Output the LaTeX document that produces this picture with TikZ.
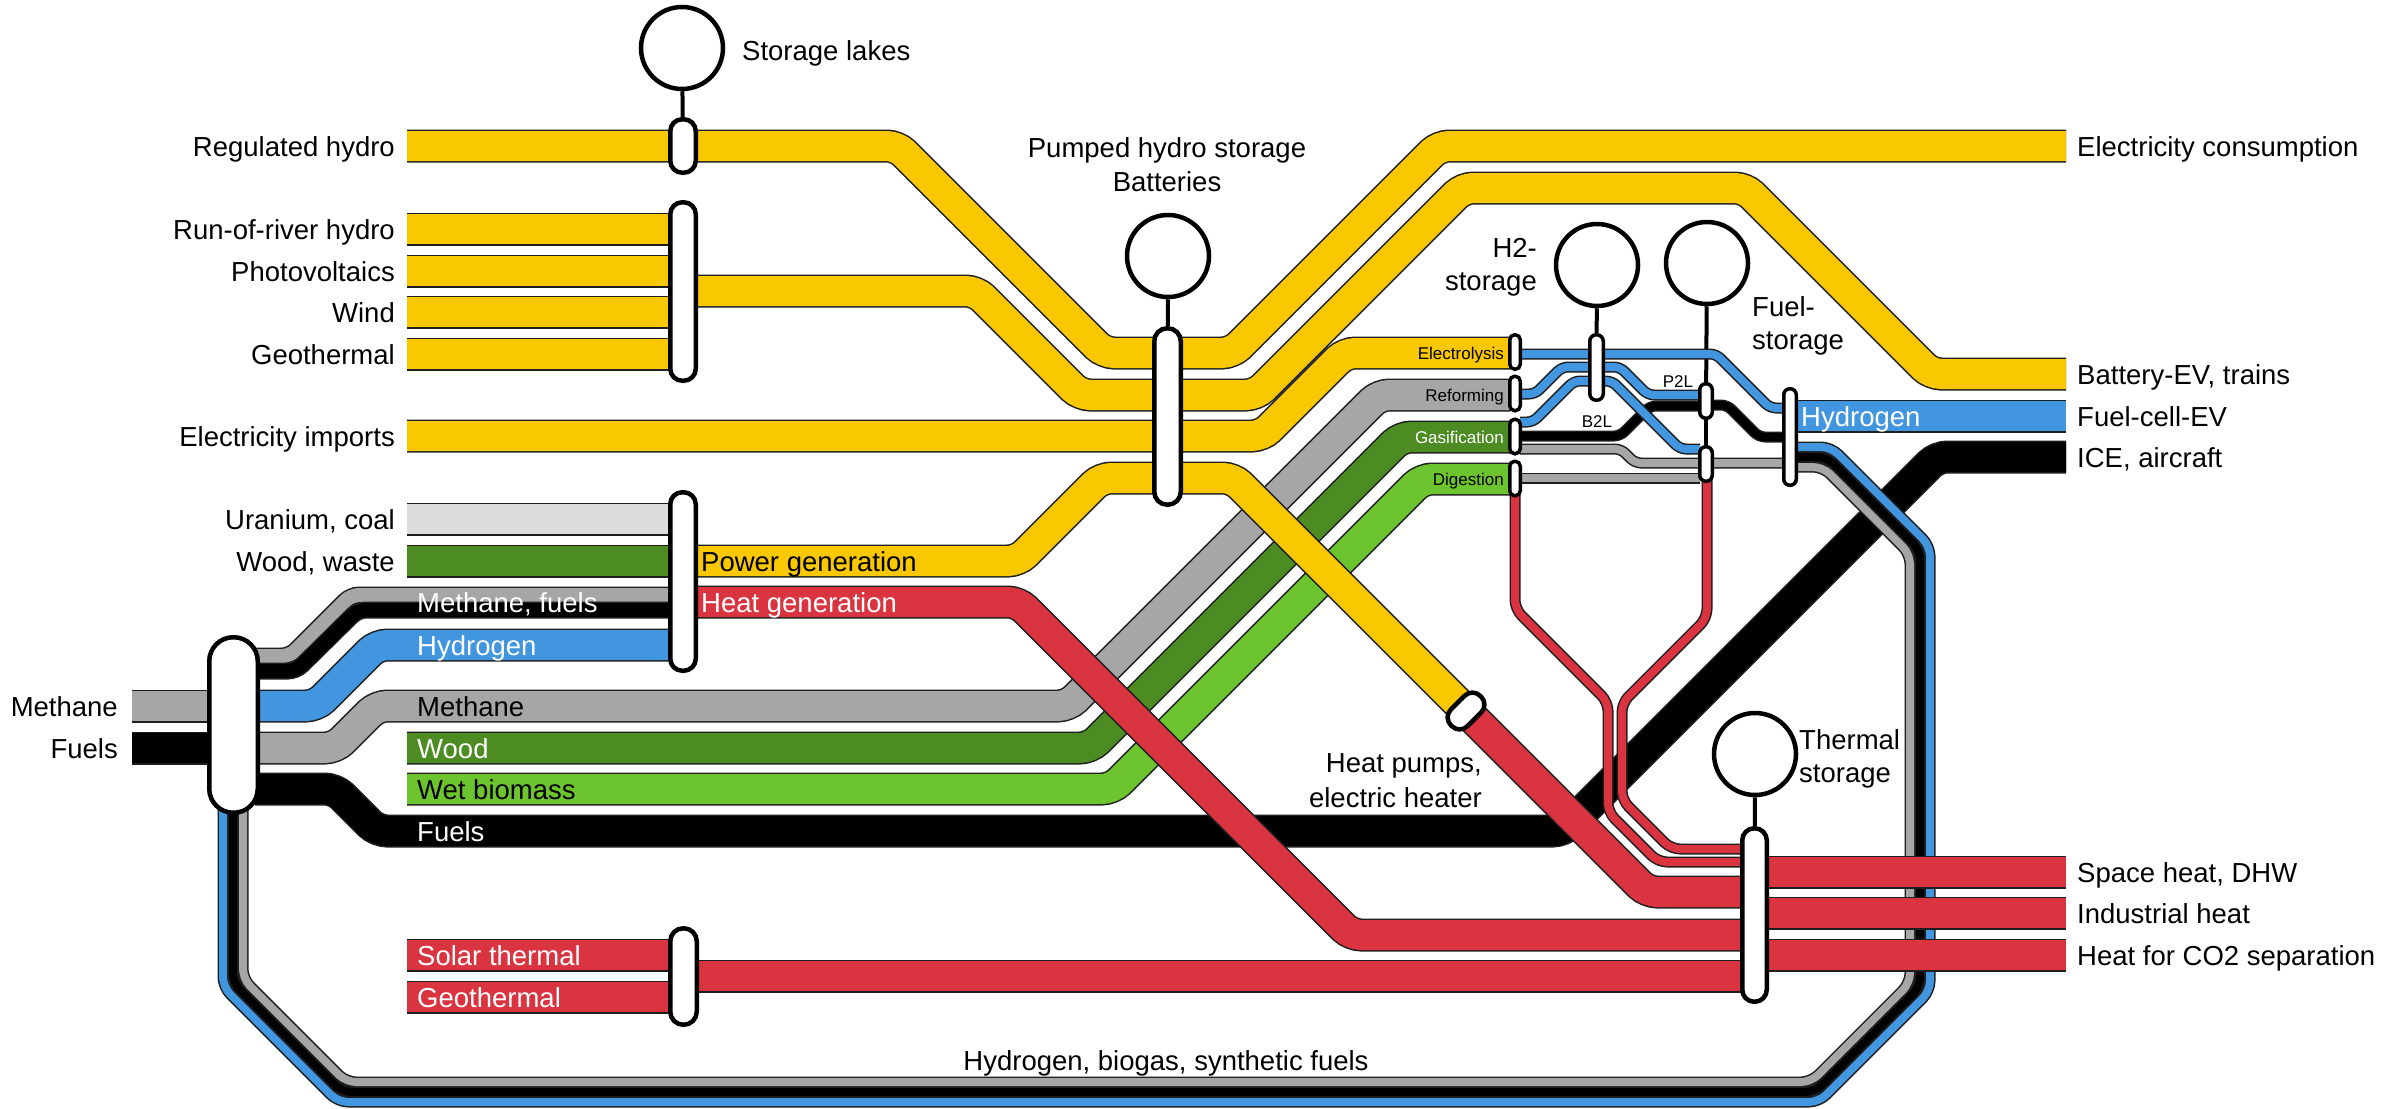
\documentclass[tikz,border=0pt]{standalone}
\usepackage{fontspec}
\setmainfont{Liberation Sans}
\usetikzlibrary{backgrounds}
\definecolor{cY}{RGB}{250,200,0}
\definecolor{cB}{RGB}{66,150,224}
\definecolor{cR}{RGB}{218,52,64}
\definecolor{cDG}{RGB}{76,140,34}
\definecolor{cLG}{RGB}{108,196,46}
\definecolor{cG}{RGB}{166,166,166}
\definecolor{cLt}{RGB}{221,221,221}
\definecolor{bord}{RGB}{30,30,30}
\pgfdeclarelayer{bands}
\pgfsetlayers{bands,main}
\tikzset{
 wb/.style={line width=30pt, rounded corners=10pt, preaction={draw=bord, line width=33pt}},
 hb/.style={line width=14pt, rounded corners=8pt, preaction={draw=bord, line width=17pt}},
 tb/.style={line width=8pt, rounded corners=6pt, preaction={draw=bord, line width=11pt}},
 pill/.style={draw=black, fill=white, line width=4.5pt, inner sep=0pt, rectangle},
 spill/.style={pill, line width=3.5pt},
 store/.style={circle, draw=black, line width=4.5pt, inner sep=0pt, minimum size=82pt},
 stem/.style={line width=4pt},
 lab/.style={font=\fontsize{27.5}{33}\selectfont, inner sep=0pt},
 slab/.style={font=\fontsize{17}{20}\selectfont, inner sep=0pt},
}
\begin{document}
\begin{tikzpicture}[x=1pt,y=-1pt]
\useasboundingbox (0,0) rectangle (2408,1108);

% ---------- pills ----------
\node[pill, minimum width=25.5pt, minimum height=53.5pt, rounded corners=12pt] (psl) at (683,146) {};
\node[pill, minimum width=25.5pt, minimum height=178.5pt, rounded corners=12pt] (pres) at (683,291.5) {};
\node[pill, minimum width=25.5pt, minimum height=178.5pt, rounded corners=12pt] (ppp) at (683,581.5) {};
\node[pill, minimum width=48.5pt, minimum height=175.5pt, rounded corners=24pt] (phub) at (233.5,725) {};
\node[pill, minimum width=26.5pt, minimum height=176.5pt, rounded corners=13pt] (pphs) at (1167.5,416.5) {};
\node[pill, minimum width=41.5pt, minimum height=23.5pt, rounded corners=11pt, rotate=45] (php) at (1466,711) {};
\node[spill, minimum width=10.5pt, minimum height=34.5pt, rounded corners=5pt] (pel) at (1515,352) {};
\node[spill, minimum width=10.5pt, minimum height=34.5pt, rounded corners=5pt] (pre) at (1515,393.5) {};
\node[spill, minimum width=10.5pt, minimum height=34.5pt, rounded corners=5pt] (pga) at (1515,436.5) {};
\node[spill, minimum width=10.5pt, minimum height=34.5pt, rounded corners=5pt] (pdi) at (1515,478.5) {};
\node[spill, minimum width=13.5pt, minimum height=65.5pt, rounded corners=6.5pt] (ph2) at (1596.5,367.5) {};
\node[spill, minimum width=12.5pt, minimum height=34.5pt, rounded corners=6pt] (pp2l) at (1706,401) {};
\node[spill, minimum width=12.5pt, minimum height=34.5pt, rounded corners=6pt] (pmet) at (1706,464) {};
\node[spill, minimum width=12.5pt, minimum height=96.5pt, rounded corners=6pt] (phyd) at (1790,437) {};
\node[pill, minimum width=24.5pt, minimum height=173.5pt, rounded corners=12pt] (pth) at (1754.5,915) {};
\node[pill, minimum width=26.5pt, minimum height=96.5pt, rounded corners=13pt] (psol) at (683.5,976.5) {};

% ---------- storages ----------
\node[store] (csl) at (682,48) {};
\node[store] (cphs) at (1168,256) {};
\node[store] (ch2) at (1597,265) {};
\node[store] (cfu) at (1707,263) {};
\node[store] (cth) at (1755,754) {};

\begin{pgfonlayer}{bands}
% stems
\draw[stem] (csl) -- (psl);
\draw[stem] (cphs) -- (pphs);
\draw[stem] (ch2) -- (ph2);
\draw[stem] (cfu) -- (pp2l);
\draw[stem] (pp2l) -- (pmet);
\draw[stem] (cth) -- (pth);

% fuels -> ICE
\draw[wb, black] (255,789) -- (335,789) -- (377,831) -- (1563,831) -- (1937,457) -- (2066,457);
% methane, wood, wet biomass to conversion
\draw[wb, cG] (255,748) -- (335,748) -- (377,706) -- (1068,706) -- (1379,395) -- (1510,395);
\draw[wb, cDG] (407,748) -- (1090,748) -- (1401,437) -- (1510,437);
\draw[wb, cLG] (407,789) -- (1112,789) -- (1422,479) -- (1510,479);
% heat generation
\draw[wb, cR] (690,602) -- (1018,602) -- (1351,935) -- (1745,935);
% power generation -> heat pumps
\draw[wb, cY] (690,561) -- (1018,561) -- (1101,478) -- (1233,478) -- (1466,711);
\draw[wb, cR] (1466,711) -- (1647,892) -- (1745,892);
% thin red heat lines
\draw[tb, cR, rounded corners=9pt] (1515,490) -- (1515,609) -- (1608,702) -- (1608,812) -- (1658,862) -- (1745,862);
\draw[tb, cR, rounded corners=9pt] (1707,478) -- (1707,618) -- (1622,703) -- (1622,800) -- (1671,849) -- (1745,849);
% loop
\draw[tb, cB, rounded corners=10pt] (223,800) -- (223,987) -- (338,1102) -- (1819,1102) -- (1930,991) -- (1930,546) -- (1831,447) -- (1795,447);
\draw[tb, black, rounded corners=10pt] (233,800) -- (233,983) -- (342,1092) -- (1815,1092) -- (1920,987) -- (1920,550) -- (1827,457) -- (1795,457);
\draw[tb, cG, rounded corners=10pt] (243,800) -- (243,979) -- (346,1082) -- (1811,1082) -- (1910,983) -- (1910,554) -- (1823,467) -- (1795,467);
% heat outputs
\draw[wb, cR] (1760,872) -- (2066,872);
\draw[wb, cR] (1760,913) -- (2066,913);
\draw[wb, cR] (1760,955) -- (2066,955);
\draw[wb, cR] (407,955) -- (675,955);
\draw[wb, cR] (407,997) -- (675,997);
\draw[wb, cR] (690,976) -- (1745,976);
% electricity
\draw[wb, cY] (407,146) -- (897,146) -- (1104,353) -- (1232,353) -- (1439,146) -- (2066,146);
\draw[wb, cY] (407,229) -- (675,229);
\draw[wb, cY] (407,271) -- (675,271);
\draw[wb, cY] (407,312) -- (675,312);
\draw[wb, cY] (407,354) -- (675,354);
\draw[wb, cY] (690,291) -- (976,291) -- (1080,395) -- (1256,395) -- (1463,188) -- (1745,188) -- (1931,374) -- (2066,374);
\draw[wb, cY] (407,436) -- (1262,436) -- (1345,353) -- (1510,353);
% power plant inputs
\draw[wb, cLt] (407,519) -- (675,519);
\draw[wb, cDG] (407,561) -- (675,561);
\draw[hb, cG] (255,656) -- (290,656) -- (351,595) -- (675,595);
\draw[hb, black] (255,671) -- (296,671) -- (358,610) -- (675,610);
\draw[wb, cB] (255,706) -- (316,706) -- (377,645) -- (675,645);
% methane / fuels input
\draw[wb, cG] (132,706) -- (215,706);
\draw[wb, black] (132,748) -- (215,748);
% hydrogen output
\draw[wb, cB] (1795,416) -- (2066,416);
% conversion lines
\draw[tb, black] (1520,436) -- (1620,436) -- (1650,406) -- (1700,406);
\draw[tb, black] (1712,405) -- (1727,405) -- (1759,437) -- (1785,437);
\draw[tb, cG] (1520,449) -- (1621,449) -- (1635,463) -- (1785,463);
\draw[tb, cG] (1520,478) -- (1700,478);
\draw[tb, cB] (1520,354) -- (1716,354) -- (1770,408) -- (1785,408);
\draw[tb, cB] (1520,394) -- (1535,394) -- (1562,367) -- (1620,367) -- (1648,395) -- (1700,395);
\draw[tb, cB] (1520,422) -- (1533,422) -- (1574,381) -- (1612,381) -- (1680,449) -- (1700,449);
\end{pgfonlayer}

% ---------- labels ----------
\node[lab, anchor=base west] (tsl) at (742,60) {Storage lakes};
\node[lab, anchor=base] (tphs1) at (1167,157) {Pumped hydro storage};
\node[lab, anchor=base] (tphs2) at (1167,191) {Batteries};
\node[lab, anchor=base east] (th21) at (1537,257) {H2-};
\node[lab, anchor=base east] (th22) at (1537,290) {storage};
\node[lab, anchor=base west] (tfu1) at (1752,316) {Fuel-};
\node[lab, anchor=base west] (tfu2) at (1752,349) {storage};
\node[lab, anchor=base west] (tth1) at (1799,749) {Thermal};
\node[lab, anchor=base west] (tth2) at (1799,782) {storage};
\node[lab, anchor=base east] (thp1) at (1482,772) {Heat pumps,};
\node[lab, anchor=base east] (thp2) at (1482,807) {electric heater};
\node[lab, anchor=base] (tloop) at (1166,1070) {Hydrogen, biogas, synthetic fuels};

\node[lab, anchor=base east] (l1) at (395,156) {Regulated hydro};
\node[lab, anchor=base east] (l2) at (395,239) {Run-of-river hydro};
\node[lab, anchor=base east] (l3) at (395,281) {Photovoltaics};
\node[lab, anchor=base east] (l4) at (395,322) {Wind};
\node[lab, anchor=base east] (l5) at (395,364) {Geothermal};
\node[lab, anchor=base east] (l6) at (395,446) {Electricity imports};
\node[lab, anchor=base east] (l7) at (395,529) {Uranium, coal};
\node[lab, anchor=base east] (l8) at (395,571) {Wood, waste};
\node[lab, anchor=base east] (l9) at (118,716) {Methane};
\node[lab, anchor=base east] (l10) at (118,758) {Fuels};

\node[lab, anchor=base west] (r1) at (2077,156) {Electricity consumption};
\node[lab, anchor=base west] (r2) at (2077,384) {Battery-EV, trains};
\node[lab, anchor=base west] (r3) at (2077,426) {Fuel-cell-EV};
\node[lab, anchor=base west] (r4) at (2077,467) {ICE, aircraft};
\node[lab, anchor=base west] (r5) at (2077,882) {Space heat, DHW};
\node[lab, anchor=base west] (r6) at (2077,923) {Industrial heat};
\node[lab, anchor=base west] (r7) at (2077,965) {Heat for CO2 separation};

\node[lab, anchor=base west, white] (b1) at (417,612) {Methane, fuels};
\node[lab, anchor=base west, white] (b2) at (417,655) {Hydrogen};
\node[lab, anchor=base west] (b3) at (417,716) {Methane};
\node[lab, anchor=base west, white] (b4) at (417,758) {Wood};
\node[lab, anchor=base west] (b5) at (417,799) {Wet biomass};
\node[lab, anchor=base west, white] (b6) at (417,841) {Fuels};
\node[lab, anchor=base west, white] (b7) at (417,965) {Solar thermal};
\node[lab, anchor=base west, white] (b8) at (417,1007) {Geothermal};
\node[lab, anchor=base west] (b9) at (701,571) {Power generation};
\node[lab, anchor=base west, white] (b10) at (701,612) {Heat generation};
\node[lab, anchor=base west, white] (b11) at (1801,426) {Hydrogen};

\node[slab, anchor=base east] (s1) at (1504,359) {Electrolysis};
\node[slab, anchor=base east] (s2) at (1504,401) {Reforming};
\node[slab, anchor=base east, white] (s3) at (1504,443) {Gasification};
\node[slab, anchor=base east] (s4) at (1504,485) {Digestion};
\node[slab, anchor=base] (s5) at (1597,427) {B2L};
\node[slab, anchor=base] (s6) at (1678,387) {P2L};
\end{tikzpicture}
\end{document}
